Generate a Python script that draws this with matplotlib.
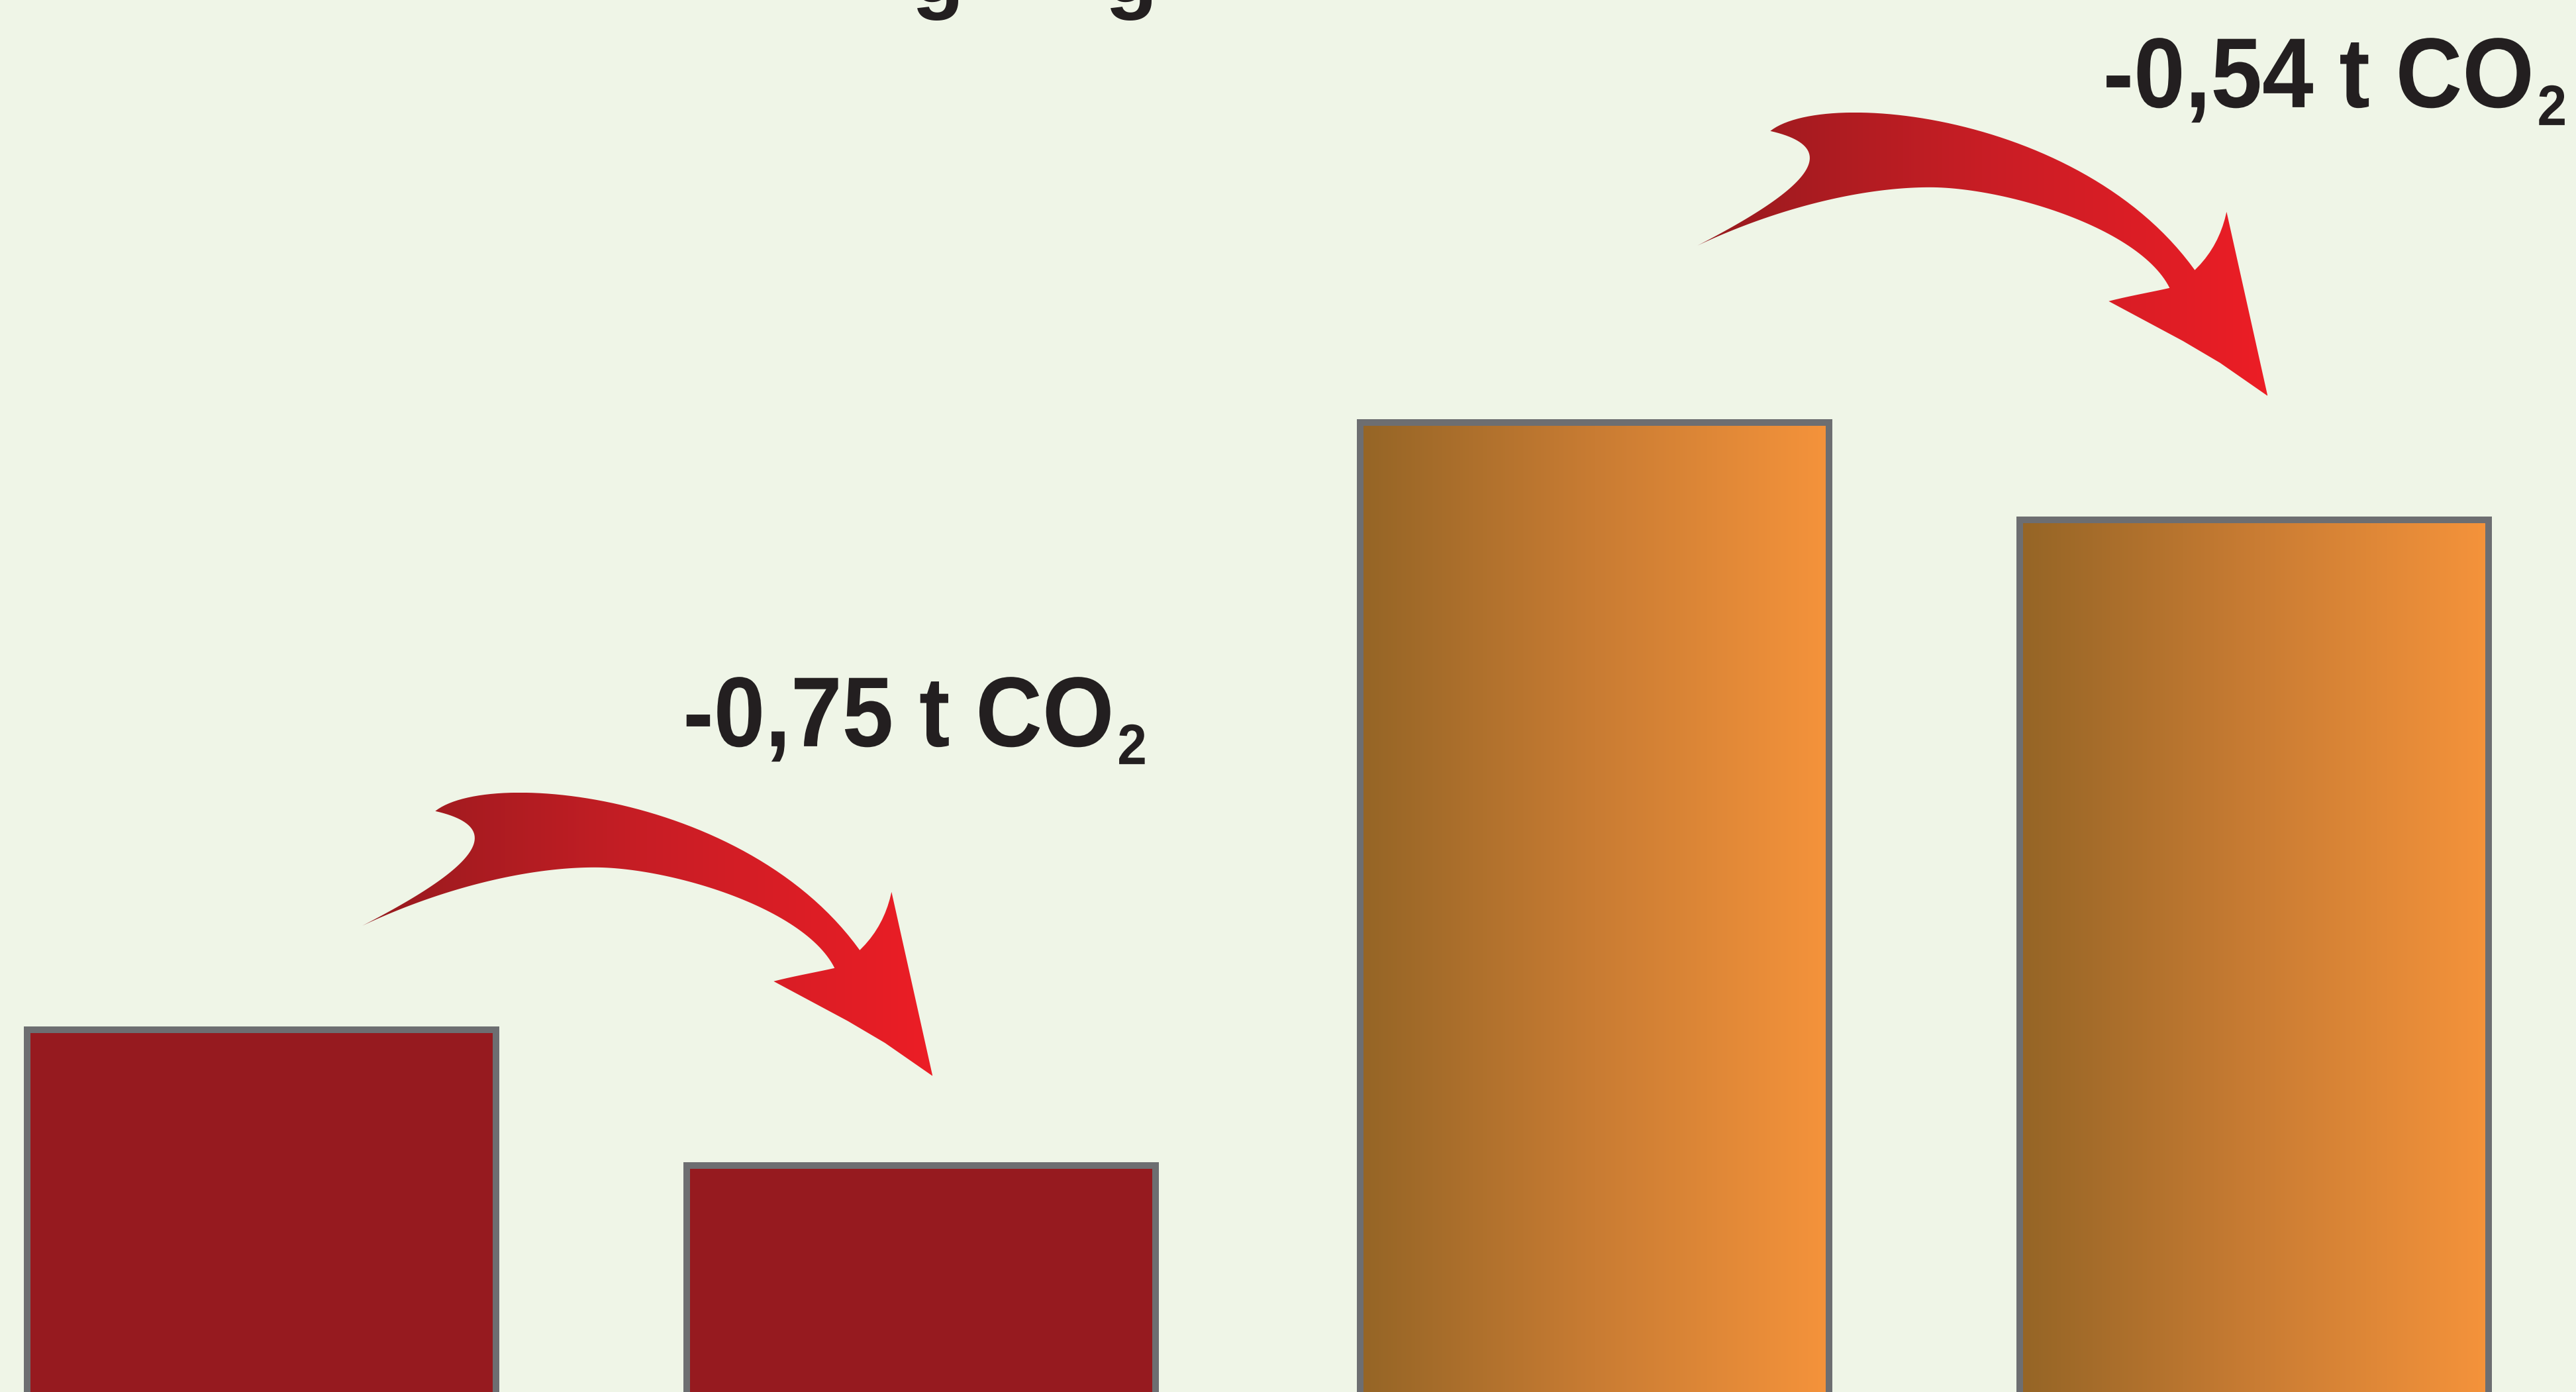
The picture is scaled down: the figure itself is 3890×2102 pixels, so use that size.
import numpy as np
import matplotlib
matplotlib.use("Agg")
import matplotlib.pyplot as plt
from matplotlib.colors import LinearSegmentedColormap
from matplotlib.patches import Polygon
from matplotlib.patheffects import AbstractPathEffect
from matplotlib.transforms import Affine2D

plt.rcParams['font.family'] = ['Liberation Sans', 'DejaVu Sans']

# --- data (t CO2 per bar) ---
positions = [0, 1.125, 2.275, 3.4]
values = [2.64, 1.89, 6.0, 5.46]
bar_styles = ['solid', 'solid', 'gradient', 'gradient']
pairs = [(0, 1), (2, 3)]

# annotation placement relative to the second bar of each pair
arrow_tip_dx = [0.02, 0.023]
arrow_tip_dy = [0.495, 0.687]
label_dx = [-0.406, -0.258]
label_dy = [2.319, 2.284]

BG = '#eff5e7'
EDGE = '#6d6e71'
DARK_RED = '#961a1f'
TEXT = '#231f20'

W, H, DPI = 3891, 2102, 100
fig = plt.figure(figsize=(W / DPI, H / DPI), dpi=DPI, facecolor=BG)
ax = fig.add_axes([0, 0, 1, 1])
ax.set_facecolor(BG)
ax.axis('off')

XLIM = (-0.4463, 3.9503)
YLIM = (0.637, 8.337)
ax.set_xlim(XLIM)
ax.set_ylim(YLIM)

bar_cmap = LinearSegmentedColormap.from_list('bar', ['#956526', '#c97c33', '#f5933b'])
arrow_cmap = LinearSegmentedColormap.from_list('arrow', ['#961a1e', '#c81e25', '#ec1d25'])
grad = np.linspace(0, 1, 256).reshape(1, -1)

bars = ax.bar(positions, values, width=0.8, color=DARK_RED, edgecolor=EDGE,
              linewidth=7.2, zorder=2)
for bar, style in zip(bars, bar_styles):
    if style == 'gradient':
        bar.set_facecolor('none')
        x0 = bar.get_x()
        im = ax.imshow(grad, extent=[x0, x0 + bar.get_width(), 0, bar.get_height()],
                       aspect='auto', cmap=bar_cmap, zorder=1.9, interpolation='bilinear')
        im.set_clip_path(bar)
ax.set_xlim(XLIM)
ax.set_ylim(YLIM)


class Squeeze(AbstractPathEffect):
    """Narrow the glyphs horizontally around x0 (display px)."""

    def __init__(self, x0, sx):
        super().__init__()
        self.x0, self.sx = x0, sx

    def draw_path(self, renderer, gc, tpath, affine, rgbFace=None):
        squeeze = Affine2D().translate(-self.x0, 0).scale(self.sx, 1).translate(self.x0, 0)
        renderer.draw_path(gc, tpath, affine + squeeze, rgbFace)


def bezier(p0, p1, p2, p3, n=60):
    t = np.linspace(0, 1, n)[:, None]
    p0, p1, p2, p3 = map(np.asarray, (p0, p1, p2, p3))
    return ((1 - t) ** 3 * p0 + 3 * (1 - t) ** 2 * t * p1
            + 3 * (1 - t) * t ** 2 * p2 + t ** 3 * p3)


# swoosh outline in pixels (y down), tip at (1409, 1625)
outline = np.vstack([
    bezier((658, 1225), (740, 1160), (1130, 1200), (1299, 1435)),   # upper edge
    bezier((1299, 1435), (1325, 1410), (1340, 1380), (1347, 1347), 10),  # right barb
    np.array([(1409, 1625), (1337, 1575), (1281, 1542), (1169, 1482)], float),
    bezier((1169, 1482), (1200, 1474), (1235, 1468), (1261, 1462), 10),
    bezier((1261, 1462), (1215, 1370), (1010, 1310), (899, 1310)),    # inner edge
    bezier((899, 1310), (790, 1310), (660, 1345), (548, 1398)),
    bezier((548, 1398), (680, 1330), (790, 1255), (658, 1225)),       # tail notch
])
rel = np.column_stack([outline[:, 0] - 1409, 1625 - outline[:, 1]])

renderer = fig.canvas.get_renderer()
SX = 0.93
for k, (a, b) in enumerate(pairs):
    saving = values[a] - values[b]
    label = '-' + f'{saving:.2f}'.replace('.', ',') + ' t CO'
    lx, ly = positions[b] + label_dx[k], values[b] + label_dy[k]
    px, py = ax.transData.transform((lx, ly))
    t = ax.text(lx, ly, label, fontsize=108, fontweight='bold', color=TEXT,
                ha='left', va='baseline', zorder=4,
                path_effects=[Squeeze(px, SX)])
    right = px + (t.get_window_extent(renderer).x1 - px) * SX
    sx_data, sy_data = ax.transData.inverted().transform((right + 5, py - 27))
    ax.text(sx_data, sy_data, '2', fontsize=62, fontweight='bold', color=TEXT,
            ha='left', va='baseline', zorder=4, path_effects=[Squeeze(right + 5, SX)])

    tip = ax.transData.transform((positions[b] + arrow_tip_dx[k], values[b] + arrow_tip_dy[k]))
    pts = ax.transData.inverted().transform(rel + tip)
    poly = Polygon(pts, closed=True, facecolor='none', edgecolor='none', zorder=3)
    ax.add_patch(poly)
    im = ax.imshow(grad, extent=[pts[:, 0].min(), pts[:, 0].max(), pts[:, 1].min(), pts[:, 1].max()],
                   aspect='auto', cmap=arrow_cmap, zorder=3, interpolation='bilinear')
    im.set_clip_path(poly)

ax.set_xlim(XLIM)
ax.set_ylim(YLIM)

# descenders of the (cropped) heading above the chart
for gx in (1416, 1708):
    fig.text(gx / W, 1 - 3 / H, 'g', fontsize=93, fontweight='bold', color=TEXT,
             ha='center', va='baseline')

fig.savefig('out.png', dpi=DPI, facecolor=BG)
